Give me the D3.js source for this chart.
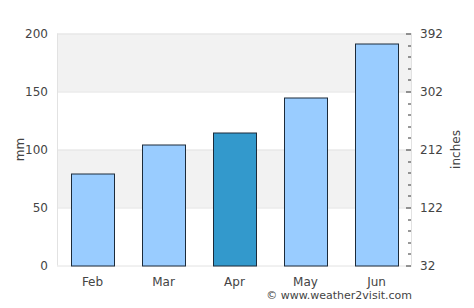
<!DOCTYPE html>
<html>
<head>
<meta charset="utf-8">
<script src="https://cdn.jsdelivr.net/npm/d3@7"></script>
<style>
body { margin: 0; background: #fff; }
text { font-family: "DejaVu Sans", sans-serif; fill: #444; }
</style>
</head>
<body>
<div id="chart"></div>
<script>
// data
var months = ["Feb", "Mar", "Apr", "May", "Jun"];
var rainMm = [79, 104, 115, 145, 191];
var highlight = "Apr";
var leftTicks = [0, 50, 100, 150, 200];
var rightTicks = [32, 122, 212, 302, 392];

var W = 474, H = 308;
var margin = {top: 33.5, right: 62, bottom: 42.5, left: 57};
var width = W - margin.left - margin.right,
    height = H - margin.top - margin.bottom;

var svg = d3.select("#chart").append("svg")
    .attr("width", W).attr("height", H);
var g = svg.append("g")
    .attr("transform", "translate(" + margin.left + "," + margin.top + ")");

var x = d3.scaleBand().domain(months).range([0, width])
    .paddingInner(0.4).paddingOuter(0.2);
var y = d3.scaleLinear().domain([0, 200]).range([height, 0]);
var y2 = d3.scaleLinear().domain([32, 392]).range([height, 0]);

// alternating bands
var bands = d3.pairs(leftTicks);
g.selectAll(".band").data(bands).enter().append("rect")
    .attr("x", 0).attr("width", width)
    .attr("y", function(d) { return y(d[1]); })
    .attr("height", function(d) { return y(d[0]) - y(d[1]); })
    .attr("fill", function(d, i) { return i % 2 ? "#f2f2f2" : "#ffffff"; });

// grid lines
g.selectAll(".grid").data(leftTicks).enter().append("line")
    .attr("x1", 0).attr("x2", width)
    .attr("y1", function(d) { return Math.round(y(d)) + 0.5; })
    .attr("y2", function(d) { return Math.round(y(d)) + 0.5; })
    .attr("stroke", "#e2e2e2");
g.append("line").attr("x1", 0.5).attr("x2", 0.5).attr("y1", 0).attr("y2", height).attr("stroke", "#e2e2e2");
g.append("line").attr("x1", width - 0.5).attr("x2", width - 0.5).attr("y1", 0).attr("y2", height).attr("stroke", "#e2e2e2");

// bars
g.selectAll(".bar").data(rainMm).enter().append("rect")
    .attr("x", function(d, i) { return Math.round(x(months[i])) + 0.5; })
    .attr("y", function(d) { return Math.round(y(d)) + 0.5; })
    .attr("width", Math.round(x.bandwidth()))
    .attr("height", function(d) { return Math.round(height - y(d)); })
    .attr("fill", function(d, i) { return months[i] === highlight ? "#3399cc" : "#99ccff"; })
    .attr("stroke", "#1c2b3a")
    .attr("stroke-width", 1);

// left axis labels
g.selectAll(".ly").data(leftTicks).enter().append("text")
    .attr("x", -9).attr("y", function(d) { return y(d); })
    .attr("dy", "0.35em").attr("text-anchor", "end")
    .style("font-size", "12px")
    .text(function(d) { return d; });

// right axis: ticks inside the plot + labels
var minor = d3.range(32, 392.1, 18);
g.selectAll(".rt").data(minor).enter().append("line")
    .attr("x1", function(d) { return rightTicks.indexOf(d) >= 0 ? width - 6 : width - 4; })
    .attr("x2", width - 1)
    .attr("y1", function(d) { return Math.round(y2(d)) + 0.5; })
    .attr("y2", function(d) { return Math.round(y2(d)) + 0.5; })
    .attr("stroke", "#333");
g.selectAll(".ry").data(rightTicks).enter().append("text")
    .attr("x", width + 8).attr("y", function(d) { return y2(d); })
    .attr("dy", "0.35em").attr("text-anchor", "start")
    .style("font-size", "12px")
    .text(function(d) { return d; });

// x labels
g.selectAll(".xl").data(months).enter().append("text")
    .attr("x", function(d) { return x(d) + x.bandwidth() / 2; })
    .attr("y", height + 20)
    .attr("text-anchor", "middle")
    .style("font-size", "12px")
    .text(function(d) { return d; });

// axis titles
svg.append("text")
    .attr("transform", "translate(24," + (margin.top + height / 2) + ") rotate(-90)")
    .attr("text-anchor", "middle")
    .style("font-size", "12px")
    .text("mm");
svg.append("text")
    .attr("transform", "translate(460," + (margin.top + height / 2) + ") rotate(-90)")
    .attr("text-anchor", "middle")
    .style("font-size", "12px")
    .text("inches");

// credit
svg.append("text")
    .attr("x", 412).attr("y", 299)
    .attr("text-anchor", "end")
    .style("font-size", "11px")
    .text("\u00a9 www.weather2visit.com");
</script>
</body>
</html>
